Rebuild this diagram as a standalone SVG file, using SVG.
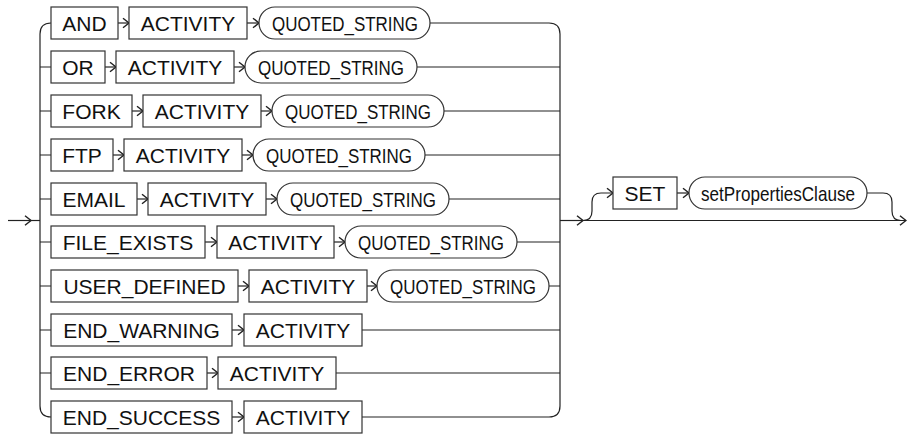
<svg xmlns="http://www.w3.org/2000/svg" width="907" height="434" viewBox="0 0 907 434">
<style>
.b{fill:#fff;stroke:#333;stroke-width:1.2}
.t{font-family:"Liberation Sans",Arial,sans-serif;font-size:21px;fill:#111;text-anchor:middle}
.n{font-family:"Liberation Sans",Arial,sans-serif;font-size:21px;fill:#111;text-anchor:start}
.c{fill:none;stroke:#222;stroke-width:1.2}
.a{fill:none;stroke:#222;stroke-width:1.2;marker-end:url(#ar)}
</style>
<defs>
<marker id="ar" markerUnits="userSpaceOnUse" markerWidth="12" markerHeight="12" refX="6" refY="5" orient="auto" viewBox="0 0 8 10">
<path d="M1,1 L6,5 L1,9" fill="none" stroke="#222" stroke-width="1.2"/>
</marker>
</defs>
<g id="connectors">
<path class="a" d="M8,220.5 L31,220.5"/>
<path class="c" d="M30,220.5 L40,220.5"/>
<path class="c" d="M51,23 Q40,23 40,34 L40,406 Q40,417 51,417"/>
<path class="c" d="M40,67 L51,67 M40,111 L51,111 M40,155 L51,155 M40,199 L51,199 M40,242 L51,242 M40,286 L51,286 M40,330 L51,330 M40,373 L51,373"/>
<path class="c" d="M430,23 L549,23 Q560,23 560,34 L560,406 Q560,417 549,417 L362,417"/>
<path class="c" d="M417,67 L560,67 M444,111 L560,111 M425,155 L560,155 M449,199 L560,199 M517,242 L560,242 M549,286 L560,286 M362,330 L560,330 M336,373 L560,373"/>
<path class="a" d="M118,23 L129,23"/><path class="a" d="M247,23 L259,23"/>
<path class="a" d="M105,67 L116,67"/><path class="a" d="M234,67 L245,67"/>
<path class="a" d="M132,111 L143,111"/><path class="a" d="M261,111 L272,111"/>
<path class="a" d="M113,155 L124,155"/><path class="a" d="M242,155 L253,155"/>
<path class="a" d="M137,199 L148,199"/><path class="a" d="M266,199 L277,199"/>
<path class="a" d="M205,242 L217,242"/><path class="a" d="M334,242 L345,242"/>
<path class="a" d="M238,286 L249,286"/><path class="a" d="M367,286 L377,286"/>
<path class="a" d="M232,330 L244,330"/>
<path class="a" d="M207,373 L218,373"/>
<path class="a" d="M232,417 L244,417"/>
<path class="a" d="M560,220.5 L583,220.5"/>
<path class="a" d="M582,220.5 L906,220.5"/>
<path class="a" d="M583,220.5 Q592,220.5 592,211 L592,202 Q592,193 601,193 L613,193"/>
<path class="a" d="M677,193 L689,193"/>
<path class="c" d="M867,193 L883,193 Q892,193 892,202 L892,211 Q892,220.5 901,220.5"/>
</g>
<g id="row1">
<rect class="b" x="51" y="7" width="67" height="32"/><text class="t" x="84.5" y="30.5">AND</text>
<rect class="b" x="129" y="7" width="118" height="32"/><text class="t" x="188" y="30.5">ACTIVITY</text>
<rect class="b" x="259" y="7" width="171" height="32" rx="16"/><text class="n" x="272" y="30.5" textLength="146" lengthAdjust="spacingAndGlyphs">QUOTED_STRING</text>
</g>
<g id="row2">
<rect class="b" x="51" y="51" width="54" height="32"/><text class="t" x="78" y="74.5">OR</text>
<rect class="b" x="116" y="51" width="118" height="32"/><text class="t" x="175" y="74.5">ACTIVITY</text>
<rect class="b" x="245" y="51" width="172" height="32" rx="16"/><text class="n" x="258" y="74.5" textLength="146" lengthAdjust="spacingAndGlyphs">QUOTED_STRING</text>
</g>
<g id="row3">
<rect class="b" x="51" y="95" width="81" height="32"/><text class="t" x="91.5" y="118.5">FORK</text>
<rect class="b" x="143" y="95" width="118" height="32"/><text class="t" x="202" y="118.5">ACTIVITY</text>
<rect class="b" x="272" y="95" width="172" height="32" rx="16"/><text class="n" x="285" y="118.5" textLength="146" lengthAdjust="spacingAndGlyphs">QUOTED_STRING</text>
</g>
<g id="row4">
<rect class="b" x="51" y="139" width="62" height="32"/><text class="t" x="82" y="162.5">FTP</text>
<rect class="b" x="124" y="139" width="118" height="32"/><text class="t" x="183" y="162.5">ACTIVITY</text>
<rect class="b" x="253" y="139" width="172" height="32" rx="16"/><text class="n" x="266" y="162.5" textLength="146" lengthAdjust="spacingAndGlyphs">QUOTED_STRING</text>
</g>
<g id="row5">
<rect class="b" x="51" y="183" width="86" height="32"/><text class="t" x="94" y="206.5">EMAIL</text>
<rect class="b" x="148" y="183" width="118" height="32"/><text class="t" x="207" y="206.5">ACTIVITY</text>
<rect class="b" x="277" y="183" width="172" height="32" rx="16"/><text class="n" x="290" y="206.5" textLength="146" lengthAdjust="spacingAndGlyphs">QUOTED_STRING</text>
</g>
<g id="row6">
<rect class="b" x="51" y="226" width="154" height="32"/><text class="t" x="128" y="249.5">FILE_EXISTS</text>
<rect class="b" x="217" y="226" width="117" height="32"/><text class="t" x="275.5" y="249.5">ACTIVITY</text>
<rect class="b" x="345" y="226" width="172" height="32" rx="16"/><text class="n" x="358" y="249.5" textLength="146" lengthAdjust="spacingAndGlyphs">QUOTED_STRING</text>
</g>
<g id="row7">
<rect class="b" x="51" y="270" width="187" height="32"/><text class="t" x="144.5" y="293.5">USER_DEFINED</text>
<rect class="b" x="249" y="270" width="118" height="32"/><text class="t" x="308" y="293.5">ACTIVITY</text>
<rect class="b" x="377" y="270" width="172" height="32" rx="16"/><text class="n" x="390" y="293.5" textLength="146" lengthAdjust="spacingAndGlyphs">QUOTED_STRING</text>
</g>
<g id="row8">
<rect class="b" x="51" y="314" width="181" height="32"/><text class="t" x="141.5" y="337.5">END_WARNING</text>
<rect class="b" x="244" y="314" width="118" height="32"/><text class="t" x="303" y="337.5">ACTIVITY</text>
</g>
<g id="row9">
<rect class="b" x="51" y="357" width="156" height="32"/><text class="t" x="129" y="380.5">END_ERROR</text>
<rect class="b" x="218" y="357" width="118" height="32"/><text class="t" x="277" y="380.5">ACTIVITY</text>
</g>
<g id="row10">
<rect class="b" x="51" y="401" width="181" height="32"/><text class="t" x="141.5" y="424.5">END_SUCCESS</text>
<rect class="b" x="244" y="401" width="118" height="32"/><text class="t" x="303" y="424.5">ACTIVITY</text>
</g>
<g id="set">
<rect class="b" x="613" y="177" width="64" height="32"/><text class="t" x="645" y="200.5">SET</text>
<rect class="b" x="689" y="177" width="178" height="32" rx="16"/><text class="n" x="701" y="200.5" textLength="154" lengthAdjust="spacingAndGlyphs">setPropertiesClause</text>
</g>
</svg>
